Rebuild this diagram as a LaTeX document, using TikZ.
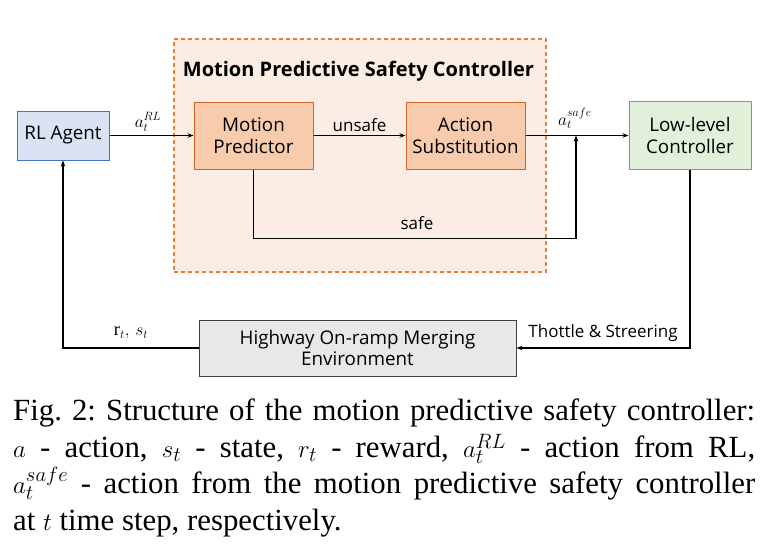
\documentclass[tikz,border=0pt]{standalone}
\usepackage{fontspec}
\setmainfont{Liberation Serif}
\newfontfamily\diafont{Open Sans}
\usetikzlibrary{arrows.meta}
\definecolor{agentfill}{RGB}{218,227,243}
\definecolor{agentdraw}{RGB}{68,114,196}
\definecolor{regionfill}{RGB}{251,236,228}
\definecolor{regiondraw}{RGB}{237,125,49}
\definecolor{mpfill}{RGB}{248,203,173}
\definecolor{mpdraw}{RGB}{212,98,30}
\definecolor{llfill}{RGB}{226,240,217}
\definecolor{lldraw}{RGB}{112,173,71}
\definecolor{envfill}{RGB}{232,232,232}
\definecolor{envdraw}{RGB}{64,64,64}
\tikzset{
  box/.style={draw, line width=1pt, align=center, inner sep=0pt,
    font=\diafont\fontsize{18.8}{21.7}\selectfont},
  lbl/.style={font=\diafont\fontsize{17}{19}\selectfont, inner sep=1pt},
  mlbl/.style={font=\fontsize{18.5}{20}\selectfont, inner sep=0pt},
  arr/.style={draw=black, line width=1.3pt, -{Stealth[length=6pt,width=4.5pt]}},
}
\begin{document}
\begin{tikzpicture}[x=1pt,y=-1pt]
\useasboundingbox (0,0) rectangle (764,547);
% region
\node[draw=regiondraw, fill=regionfill, dash pattern=on 4pt off 3pt, line width=1.1pt,
  minimum width=372pt, minimum height=233pt, inner sep=0pt] (region) at (360,155.5) {};
\node[font=\diafont\bfseries\fontsize{20}{22}\selectfont, anchor=base, inner sep=0pt] (title) at (358.5,76) {Motion Predictive Safety Controller};
% boxes
\node[box, fill=agentfill, draw=agentdraw, minimum width=92pt, minimum height=49pt] (rl) at (63,135.5) {RL Agent};
\node[box, fill=mpfill, draw=mpdraw, minimum width=119pt, minimum height=67pt] (mp) at (253.5,135.5) {Motion\\Predictor};
\node[box, fill=mpfill, draw=mpdraw, minimum width=119pt, minimum height=67pt] (as) at (465.5,135.5) {Action\\Substitution};
\node[box, fill=llfill, draw=lldraw, minimum width=122pt, minimum height=68pt] (ll) at (690,135.5) {Low-level\\Controller};
\node[box, fill=envfill, draw=envdraw, minimum width=317pt, minimum height=56pt] (env) at (357.5,348) {Highway On-ramp Merging\\Environment};
\coordinate (j) at (576,135.5);
% connectors
\draw[arr] (rl) -- (mp);
\node[mlbl, anchor=base] (lrl) at (148,127) {$a_t^{RL}$};
\draw[arr] (mp) -- node[lbl, above=2pt] (lunsafe) {unsafe} (as);
\draw[arr] (as) -- (ll);
\node[mlbl, anchor=base west] (lsafe) at (558,125) {$a_t^{safe}$};
\draw[arr] (mp.south) -- ++(0,69) -| (j);
\node[lbl] (lsafelbl) at (417,223) {safe};
\draw[arr] (ll.south) |- (env.east);
\draw[arr] (env.west) -| (rl.south);
\node[mlbl] (lrs) at (131,333) {$\mathrm{r}_t,\, s_t$};
\node[lbl] (lts) at (603,333) {Thottle \& Streering};
% caption
\node[anchor=north west, inner sep=0pt, text width=742pt, align=justify,
  font=\frenchspacing\fontsize{30.8}{36.4}\selectfont] (cap) at (13,399)
  {Fig. 2: Structure of the motion predictive safety controller:\linebreak
  $a$ - action, $s_t$ - state, $r_t$ - reward, $a_t^{RL}$ - action from RL,\linebreak
  $a_t^{safe}$ - action from the motion predictive safety controller\linebreak
  at $t$ time step, respectively.};
\end{tikzpicture}
\end{document}
